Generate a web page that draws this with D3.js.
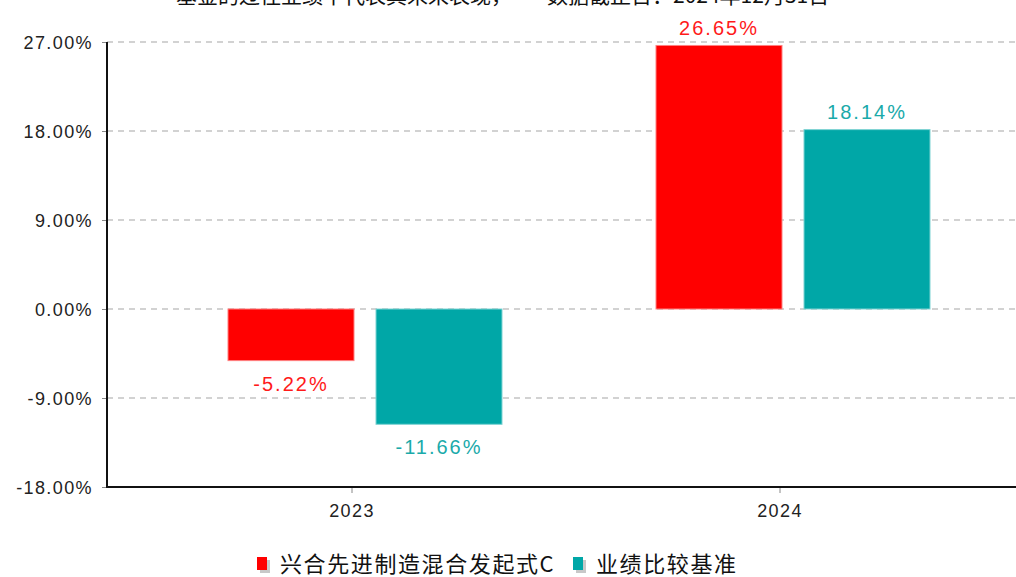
<!DOCTYPE html>
<html>
<head>
<meta charset="utf-8">
<script src="https://cdn.jsdelivr.net/npm/d3@7/dist/d3.min.js"></script>
<style>
  html, body { margin: 0; padding: 0; background: #fff; }
  svg { display: block; }
  .tick-label { font-family: "Liberation Sans", Arial, sans-serif; font-size: 18px; letter-spacing: 1.4px; fill: #222; }
  .value-label { font-family: "Liberation Sans", Arial, sans-serif; font-size: 20px; letter-spacing: 2px; }
  .cjk { font-family: "Noto Sans CJK SC", sans-serif; fill: #111; }
</style>
</head>
<body>
<div id="chart"></div>
<script>
// data
var years = ['2023', '2024'];
var seriesNames = ['兴合先进制造混合发起式C', '业绩比较基准'];
var fundReturns = [-5.22, 26.65];
var benchReturns = [-11.66, 18.14];
var yTicks = [-18, -9, 0, 9, 18, 27];
var seriesColors = ['#ff0000', '#00a7a7'];
var labelColors = ['#ff1a1a', '#1aaaaa'];

var W = 1016, H = 577;
var plot = { left: 107, top: 42, bottom: 487, right: W };

// plain hyphen for negatives, like the source
var pct = d3.formatLocale({ decimal: '.', thousands: ',', grouping: [3], currency: ['', ''], minus: '-' }).format('.2f');

var svg = d3.select('#chart').append('svg')
  .attr('width', W).attr('height', H);

// title, clipped at the top of the picture (as in the source)
var title = svg.append('text').attr('class', 'cjk')
  .attr('y', 3).style('font-size', '21px');
title.append('tspan').attr('x', 176).text('基金的过往业绩不代表其未来表现，');
title.append('tspan').attr('x', 547).text('数据截止日：2024年12月31日');

var y = d3.scaleLinear().domain([-18, 27]).range([plot.bottom, plot.top]);

var x0 = d3.scaleBand().domain(years).range([138, 994]).padding(0);
var x1 = d3.scaleBand().domain([0, 1]).range([90, 364]).paddingInner(22 / 148).paddingOuter(0);

// grid
svg.append('g').selectAll('line')
  .data(yTicks.filter(function(d) { return d > -18; }))
  .enter().append('line')
  .attr('x1', plot.left).attr('x2', plot.right)
  .attr('y1', function(d) { return y(d); }).attr('y2', function(d) { return y(d); })
  .attr('stroke', '#c4c4c4').attr('stroke-width', 1.5)
  .attr('stroke-dasharray', '6,5');

// y axis
var yAxis = d3.axisLeft(y).tickValues(yTicks).tickSize(5).tickPadding(9)
  .tickFormat(function(d) { return pct(d) + '%'; });
var gy = svg.append('g').attr('transform', 'translate(' + plot.left + ',0)').call(yAxis);
gy.select('.domain').remove();
gy.selectAll('.tick line').attr('stroke', '#888');
gy.selectAll('.tick text').attr('class', 'tick-label').attr('dy', '0.36em');

// x axis
var xAxis = d3.axisBottom(x0).tickSize(6).tickPadding(11);
var gx = svg.append('g').attr('transform', 'translate(0,' + plot.bottom + ')').call(xAxis);
gx.select('.domain').remove();
gx.selectAll('.tick line').attr('stroke', '#888');
gx.selectAll('.tick text').attr('class', 'tick-label').attr('dy', '0.71em');

// bars
var rows = years.map(function(yr, i) {
  return { year: yr, values: [fundReturns[i], benchReturns[i]] };
});

var groups = svg.append('g').selectAll('g')
  .data(rows).enter().append('g')
  .attr('transform', function(d) { return 'translate(' + x0(d.year) + ',0)'; });

var cells = groups.selectAll('g')
  .data(function(d) { return d.values.map(function(v, s) { return { v: v, s: s }; }); })
  .enter().append('g');

cells.append('rect')
  .attr('x', function(d) { return x1(d.s); })
  .attr('width', x1.bandwidth())
  .attr('y', function(d) { return y(Math.max(0, d.v)); })
  .attr('height', function(d) { return Math.abs(y(d.v) - y(0)); })
  .attr('fill', function(d) { return seriesColors[d.s]; })
  .attr('stroke', function(d) { return d.s ? '#7fd3d3' : '#ff8080'; })
  .attr('stroke-width', 1);

cells.append('text')
  .attr('class', 'value-label')
  .attr('x', function(d) { return x1(d.s) + x1.bandwidth() / 2; })
  .attr('y', function(d) { return d.v >= 0 ? y(d.v) - 10.5 : y(d.v) + 30; })
  .attr('text-anchor', 'middle')
  .attr('fill', function(d) { return labelColors[d.s]; })
  .text(function(d) { return pct(d.v) + '%'; });

// axis lines on top
svg.append('line').attr('x1', plot.left).attr('x2', plot.left)
  .attr('y1', plot.top).attr('y2', plot.bottom + 1)
  .attr('stroke', '#111').attr('stroke-width', 2);
svg.append('line').attr('x1', plot.left - 1).attr('x2', plot.right)
  .attr('y1', plot.bottom).attr('y2', plot.bottom)
  .attr('stroke', '#111').attr('stroke-width', 2);

// legend
var legendX = [257, 573];
var legend = svg.append('g').selectAll('g')
  .data(seriesNames).enter().append('g')
  .attr('transform', function(d, i) { return 'translate(' + legendX[i] + ',557)'; });
legend.append('rect').attr('x', 3).attr('y', 3).attr('width', 10).attr('height', 13).attr('fill', '#c8c8c8');
legend.append('rect').attr('width', 10).attr('height', 13)
  .attr('fill', function(d, i) { return seriesColors[i]; });
legend.append('text').attr('class', 'cjk')
  .attr('x', 23).attr('y', 15)
  .style('font-size', '22px').style('letter-spacing', '1.6px')
  .text(function(d) { return d; });
</script>
</body>
</html>
